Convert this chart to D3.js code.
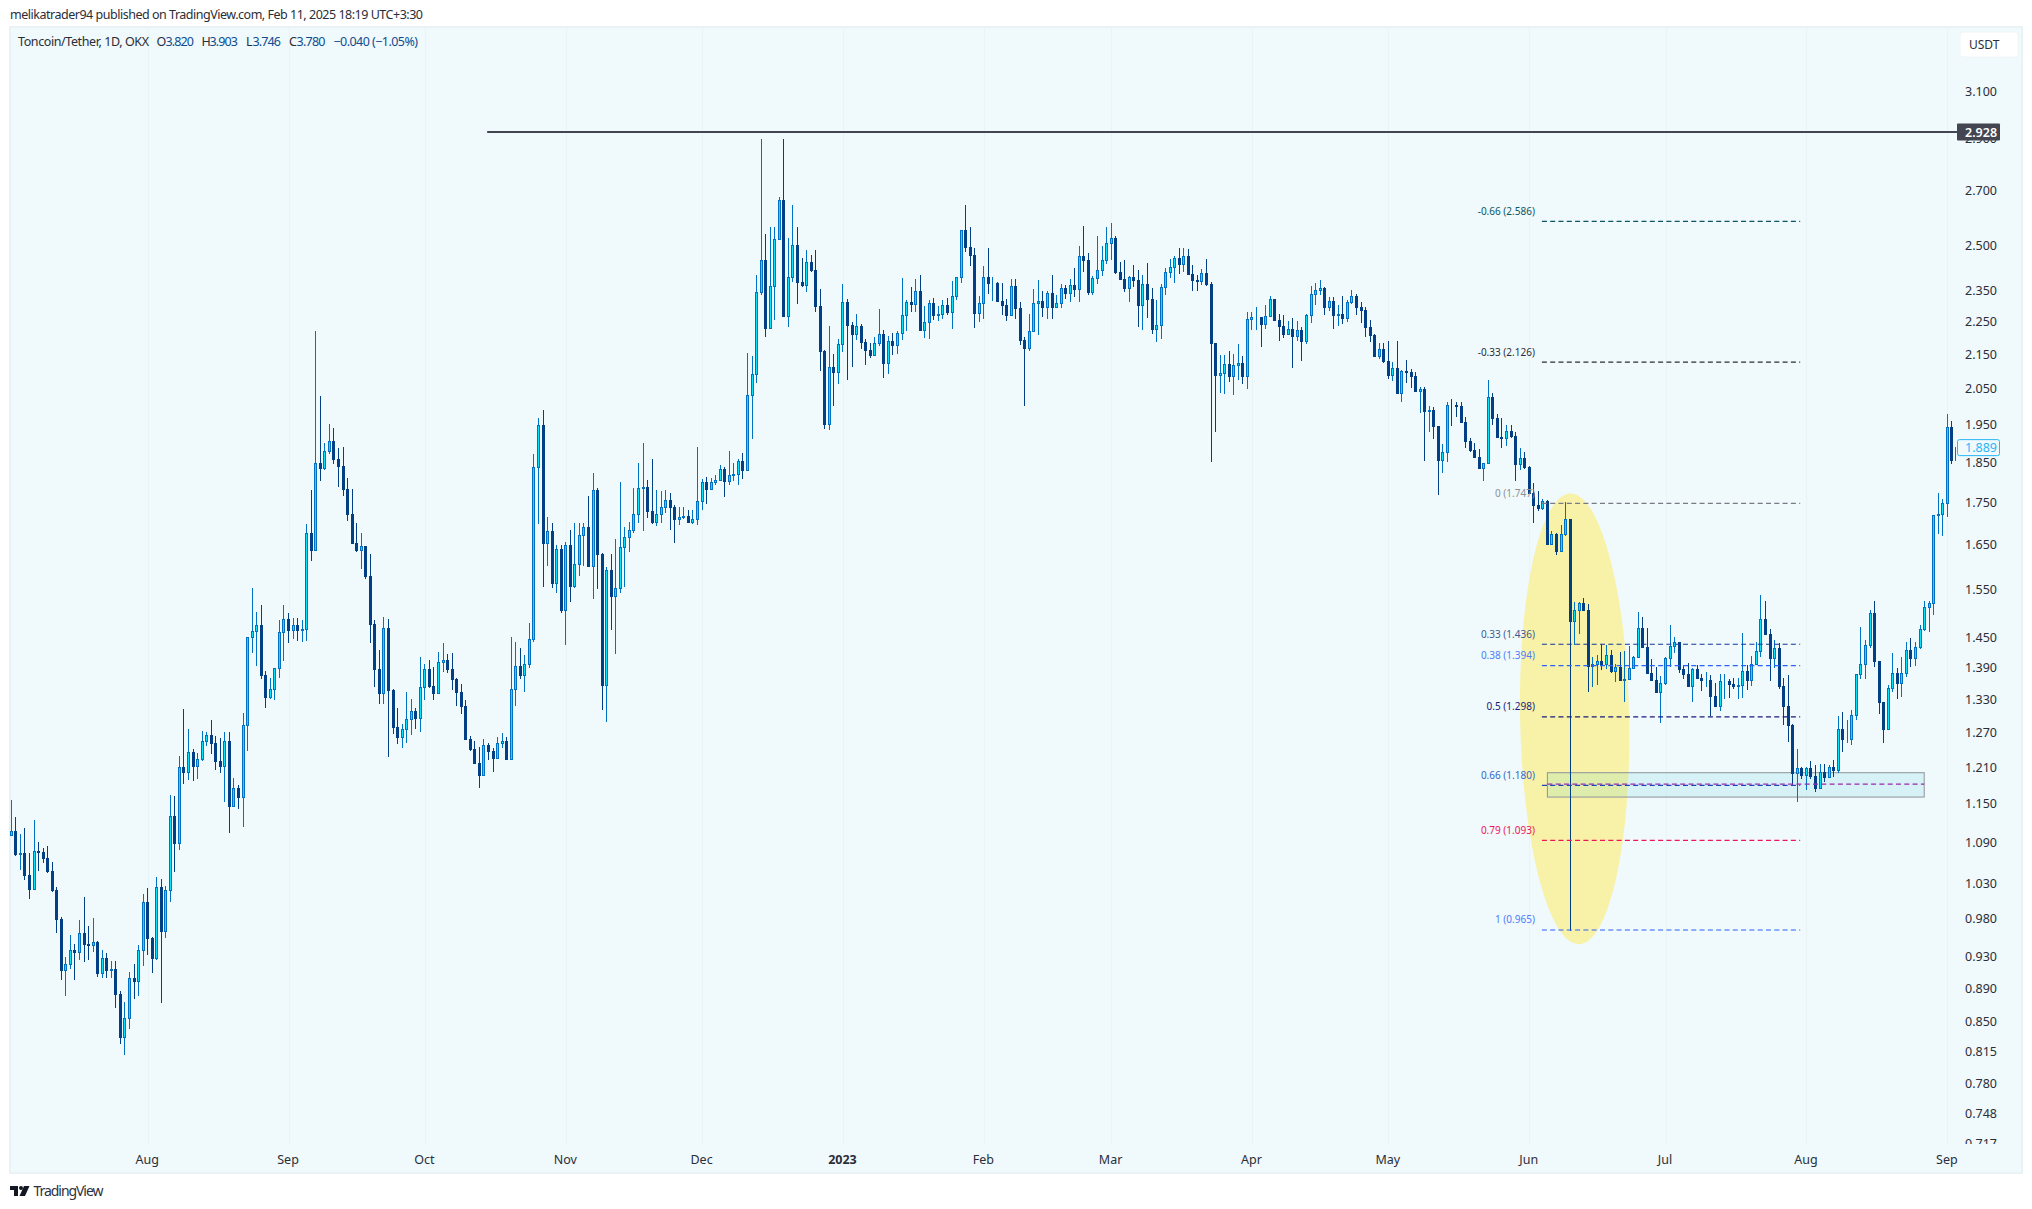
<!DOCTYPE html>
<html>
<head>
<meta charset="utf-8">
<style>
body { margin: 0; background: #fff; }
text { font-family: "Noto Sans", sans-serif; }
</style>
<script src="https://cdn.jsdelivr.net/npm/d3@7/dist/d3.min.js"></script>
</head>
<body>
<script>
//daily candles, first candle is 2 Jul 2022
var opens = [1.101,1.107,1.072,1.074,1.041,1.022,1.077,1.075,1.066,1.048,1.020,.980,.913,.921,.939,.936,.961,.947,.945,.949,
.909,.928,.913,.914,.883,.831,.854,.903,.899,.938,1.004,.954,.928,1.025,.963,1.020,1.131,1.089,1.211,1.203,
1.236,1.212,1.224,1.256,1.265,1.251,1.220,1.212,1.256,1.146,1.175,1.161,1.284,1.450,1.462,1.474,1.376,1.335,1.349,1.389,
1.460,1.488,1.464,1.474,1.464,1.466,1.676,1.638,1.847,1.836,1.878,1.904,1.858,1.841,1.783,1.722,1.653,1.638,1.646,1.578,
1.477,1.388,1.342,1.468,1.348,1.280,1.263,1.276,1.295,1.308,1.296,1.354,1.387,1.355,1.342,1.400,1.404,1.387,1.368,1.344,
1.318,1.259,1.241,1.218,1.198,1.248,1.237,1.225,1.251,1.255,1.224,1.350,1.393,1.376,1.397,1.447,1.837,1.947,1.653,1.680,
1.564,1.640,1.505,1.649,1.558,1.605,1.671,1.690,1.600,1.780,1.627,1.357,1.592,1.536,1.552,1.644,1.666,1.683,1.721,1.784,
1.786,1.729,1.703,1.721,1.739,1.754,1.739,1.710,1.713,1.717,1.703,1.710,1.752,1.799,1.783,1.799,1.804,1.832,1.803,1.817,
1.819,1.852,1.831,2.030,2.090,2.344,2.450,2.228,2.363,2.523,2.663,2.268,2.393,2.501,2.378,2.366,2.444,2.418,2.299,2.160,
1.951,2.111,2.098,2.180,2.310,2.240,2.212,2.235,2.185,2.163,2.148,2.183,2.210,2.122,2.189,2.176,2.214,2.270,2.310,2.306,
2.347,2.222,2.248,2.307,2.271,2.273,2.301,2.281,2.330,2.393,2.554,2.496,2.467,2.275,2.307,2.393,2.372,2.373,2.316,2.303,
2.271,2.363,2.291,2.193,2.169,2.220,2.307,2.314,2.297,2.340,2.295,2.307,2.356,2.342,2.366,2.354,2.464,2.451,2.344,2.390,
2.417,2.450,2.508,2.526,2.411,2.387,2.358,2.393,2.384,2.303,2.370,2.322,2.225,2.239,2.360,2.410,2.427,2.457,2.436,2.464,
2.404,2.384,2.381,2.407,2.371,2.182,2.089,2.093,2.120,2.084,2.117,2.123,2.084,2.257,2.263,2.263,2.243,2.266,2.320,2.255,
2.237,2.211,2.226,2.205,2.224,2.190,2.270,2.336,2.350,2.356,2.294,2.314,2.269,2.273,2.262,2.310,2.330,2.297,2.287,2.231,
2.208,2.144,2.164,2.129,2.087,2.108,2.038,2.100,2.097,2.084,2.041,2.049,1.987,1.988,1.944,1.856,1.875,2.004,2.002,2.000,
1.956,1.906,1.882,1.864,1.834,1.849,2.025,1.968,1.917,1.914,1.931,1.919,1.844,1.861,1.837,1.771,1.744,1.736,1.753,1.650,
1.673,1.634,1.673,1.709,1.484,1.505,1.520,1.507,1.394,1.398,1.403,1.398,1.414,1.383,1.391,1.366,1.369,1.389,1.410,1.468,
1.431,1.380,1.367,1.344,1.360,1.409,1.432,1.440,1.388,1.378,1.355,1.387,1.371,1.367,1.367,1.337,1.318,1.364,1.365,1.359,
1.355,1.356,1.383,1.367,1.397,1.422,1.488,1.456,1.408,1.428,1.355,1.318,1.284,1.200,1.209,1.198,1.209,1.196,1.175,1.203,
1.194,1.211,1.206,1.277,1.259,1.259,1.302,1.377,1.398,1.434,1.499,1.403,1.326,1.276,1.351,1.380,1.361,1.379,1.424,1.409,
1.430,1.466,1.513,1.520,1.718,1.721,1.747,1.942,1.855];
var highs = [1.157,1.130,1.103,1.112,1.074,1.125,1.090,1.081,1.085,1.061,1.024,.983,.929,.958,.946,.979,1.010,.971,.981,.950,
.939,.935,.924,.924,.886,.873,.910,.921,.945,1.014,1.023,.956,1.039,1.036,1.026,1.165,1.162,1.230,1.312,1.276,
1.242,1.235,1.272,1.271,1.292,1.264,1.260,1.271,1.271,1.192,1.181,1.305,1.450,1.552,1.501,1.516,1.383,1.370,1.389,1.486,
1.516,1.499,1.490,1.490,1.486,1.697,1.779,2.220,2.028,1.899,1.952,1.939,1.886,1.889,1.809,1.782,1.699,1.676,1.646,1.628,
1.486,1.424,1.492,1.488,1.350,1.314,1.285,1.344,1.330,1.315,1.410,1.398,1.404,1.391,1.420,1.438,1.416,1.418,1.371,1.358,
1.328,1.264,1.256,1.244,1.258,1.251,1.243,1.262,1.270,1.262,1.450,1.440,1.429,1.414,1.480,1.871,1.966,1.988,1.713,1.699,
1.649,1.649,1.655,1.683,1.699,1.699,1.699,1.764,1.822,1.784,1.630,1.599,1.628,1.662,1.799,1.690,1.701,1.784,1.849,1.899,
1.804,1.857,1.779,1.777,1.779,1.771,1.742,1.737,1.739,1.730,1.730,1.889,1.807,1.812,1.809,1.817,1.842,1.837,1.880,1.849,
1.859,1.873,2.152,2.143,2.400,2.899,2.540,2.565,2.565,2.674,2.899,2.526,2.645,2.565,2.457,2.484,2.467,2.485,2.353,2.161,
2.235,2.149,2.195,2.370,2.320,2.248,2.273,2.242,2.195,2.183,2.201,2.288,2.224,2.204,2.214,2.220,2.390,2.317,2.360,2.386,
2.400,2.298,2.317,2.324,2.298,2.317,2.324,2.380,2.393,2.554,2.645,2.565,2.491,2.330,2.430,2.491,2.393,2.376,2.373,2.320,
2.386,2.386,2.312,2.201,2.273,2.353,2.383,2.347,2.347,2.400,2.334,2.370,2.366,2.386,2.424,2.498,2.568,2.474,2.397,2.534,
2.498,2.565,2.579,2.534,2.444,2.450,2.397,2.434,2.417,2.400,2.441,2.356,2.317,2.370,2.424,2.453,2.464,2.491,2.491,2.487,
2.434,2.400,2.420,2.453,2.377,2.183,2.147,2.147,2.158,2.149,2.180,2.144,2.279,2.279,2.295,2.263,2.301,2.331,2.320,2.273,
2.270,2.251,2.260,2.251,2.234,2.273,2.363,2.373,2.383,2.360,2.327,2.327,2.301,2.330,2.318,2.350,2.336,2.310,2.295,2.254,
2.210,2.183,2.183,2.189,2.126,2.189,2.103,2.132,2.106,2.097,2.053,2.053,2.000,1.997,1.946,1.897,2.011,2.019,2.010,2.011,
1.971,1.912,1.899,1.883,1.849,2.073,2.036,1.977,1.968,1.949,1.949,1.928,1.886,1.875,1.840,1.797,1.777,1.757,1.755,1.681,
1.676,1.695,1.749,1.709,1.522,1.522,1.531,1.518,1.410,1.414,1.436,1.434,1.424,1.397,1.420,1.422,1.432,1.412,1.501,1.492,
1.468,1.406,1.392,1.373,1.410,1.475,1.451,1.441,1.393,1.399,1.389,1.395,1.377,1.382,1.375,1.360,1.378,1.377,1.368,1.370,
1.370,1.458,1.395,1.413,1.440,1.537,1.525,1.466,1.445,1.438,1.371,1.375,1.286,1.241,1.210,1.211,1.221,1.214,1.216,1.216,
1.214,1.222,1.299,1.307,1.293,1.310,1.377,1.470,1.445,1.506,1.525,1.403,1.325,1.357,1.418,1.389,1.410,1.440,1.448,1.440,
1.474,1.525,1.525,1.718,1.772,1.758,1.979,1.960,1.891];
var lows = [1.101,1.070,1.049,1.034,1.008,1.022,1.048,1.059,1.045,1.017,.961,.900,.880,.914,.900,.925,.923,.925,.936,.904,
.903,.903,.903,.866,.823,.811,.841,.877,.880,.918,.932,.909,.926,.872,.954,1.004,1.046,1.079,1.183,1.189,
1.188,1.191,1.221,1.246,1.232,1.206,1.201,1.153,1.105,1.146,1.142,1.114,1.237,1.418,1.394,1.369,1.315,1.331,1.329,1.370,
1.402,1.438,1.447,1.442,1.440,1.442,1.613,1.637,1.803,1.831,1.872,1.844,1.788,1.766,1.705,1.653,1.632,1.595,1.573,1.438,
1.353,1.321,1.321,1.227,1.268,1.250,1.243,1.251,1.265,1.277,1.271,1.329,1.352,1.328,1.340,1.382,1.380,1.348,1.318,1.304,
1.259,1.237,1.218,1.175,1.198,1.223,1.203,1.224,1.243,1.222,1.222,1.318,1.368,1.344,1.390,1.440,1.698,1.555,1.602,1.553,
1.542,1.500,1.434,1.523,1.553,1.578,1.602,1.600,1.530,1.551,1.311,1.289,1.464,1.416,1.541,1.555,1.632,1.677,1.700,1.681,
1.712,1.698,1.693,1.700,1.724,1.683,1.653,1.694,1.710,1.700,1.698,1.696,1.731,1.746,1.781,1.793,1.801,1.763,1.791,1.801,
1.791,1.808,1.831,1.911,2.066,2.335,2.203,2.228,2.253,2.519,2.269,2.231,2.376,2.306,2.359,2.345,2.411,2.281,2.101,1.938,
1.935,2.000,2.063,2.157,2.075,2.113,2.194,2.166,2.119,2.137,2.143,2.173,2.081,2.092,2.146,2.151,2.194,2.219,2.278,2.278,
2.222,2.200,2.197,2.253,2.250,2.256,2.269,2.225,2.319,2.375,2.478,2.429,2.228,2.247,2.259,2.338,2.316,2.312,2.269,2.250,
2.269,2.256,2.177,2.000,2.160,2.220,2.208,2.263,2.259,2.257,2.291,2.293,2.320,2.310,2.329,2.313,2.411,2.335,2.335,2.371,
2.398,2.437,2.449,2.404,2.387,2.345,2.313,2.360,2.232,2.222,2.261,2.211,2.185,2.197,2.334,2.390,2.375,2.403,2.411,2.402,
2.348,2.348,2.366,2.364,1.850,1.928,2.037,2.034,2.069,2.031,2.075,2.063,2.048,2.224,2.222,2.172,2.226,2.263,2.250,2.190,
2.199,2.209,2.109,2.190,2.130,2.181,2.246,2.302,2.334,2.271,2.283,2.227,2.236,2.243,2.249,2.304,2.271,2.246,2.203,2.187,
2.141,2.135,2.123,2.078,2.072,2.038,2.012,2.066,2.052,2.041,1.981,1.853,1.928,1.911,1.768,1.821,1.851,1.946,1.970,1.956,
1.887,1.877,1.861,1.832,1.801,1.846,1.949,1.912,1.887,1.893,1.912,1.801,1.829,1.832,1.771,1.700,1.728,1.730,1.649,1.652,
1.626,1.634,1.669,.963,1.435,1.457,1.506,1.344,1.353,1.357,1.385,1.388,1.379,1.362,1.366,1.326,1.370,1.387,1.408,1.428,
1.380,1.365,1.342,1.287,1.357,1.392,1.418,1.380,1.369,1.354,1.326,1.371,1.346,1.354,1.299,1.317,1.309,1.330,1.333,1.350,
1.331,1.333,1.348,1.355,1.395,1.411,1.456,1.365,1.390,1.350,1.284,1.254,1.181,1.153,1.190,1.172,1.190,1.170,1.175,1.186,
1.194,1.194,1.200,1.236,1.251,1.248,1.292,1.368,1.368,1.428,1.392,1.304,1.251,1.276,1.344,1.330,1.335,1.372,1.392,1.394,
1.426,1.462,1.460,1.495,1.674,1.669,1.715,1.845,1.855];
var closes = [1.107,1.072,1.074,1.041,1.022,1.077,1.075,1.066,1.048,1.020,.980,.913,.921,.939,.936,.961,.947,.945,.949,.909,
.928,.913,.914,.883,.831,.854,.903,.899,.938,1.004,.954,.928,1.025,.963,1.020,1.131,1.089,1.211,1.203,1.236,
1.212,1.224,1.256,1.265,1.251,1.220,1.212,1.256,1.146,1.175,1.161,1.284,1.450,1.462,1.474,1.376,1.335,1.349,1.389,1.460,
1.488,1.464,1.474,1.464,1.466,1.676,1.638,1.847,1.836,1.878,1.904,1.858,1.841,1.783,1.722,1.653,1.638,1.646,1.578,1.477,
1.388,1.342,1.468,1.348,1.280,1.263,1.276,1.295,1.308,1.296,1.354,1.387,1.355,1.342,1.400,1.404,1.387,1.368,1.344,1.318,
1.259,1.241,1.218,1.198,1.248,1.237,1.225,1.251,1.255,1.224,1.350,1.393,1.376,1.397,1.447,1.837,1.947,1.653,1.680,1.564,
1.640,1.505,1.649,1.558,1.605,1.671,1.690,1.600,1.780,1.627,1.357,1.592,1.536,1.552,1.644,1.666,1.683,1.721,1.784,1.786,
1.729,1.703,1.721,1.739,1.754,1.739,1.710,1.713,1.717,1.703,1.710,1.752,1.799,1.783,1.799,1.804,1.832,1.803,1.817,1.819,
1.852,1.831,2.030,2.090,2.344,2.450,2.228,2.363,2.523,2.663,2.268,2.393,2.501,2.378,2.366,2.444,2.418,2.299,2.160,1.951,
2.111,2.098,2.180,2.310,2.240,2.212,2.235,2.185,2.163,2.148,2.183,2.210,2.122,2.189,2.176,2.214,2.270,2.310,2.306,2.347,
2.222,2.248,2.307,2.271,2.273,2.301,2.281,2.330,2.393,2.554,2.496,2.467,2.275,2.307,2.393,2.372,2.373,2.316,2.303,2.271,
2.363,2.291,2.193,2.169,2.220,2.307,2.314,2.297,2.340,2.295,2.307,2.356,2.342,2.366,2.354,2.464,2.451,2.344,2.390,2.417,
2.450,2.508,2.526,2.411,2.387,2.358,2.393,2.384,2.303,2.370,2.322,2.225,2.239,2.360,2.410,2.427,2.457,2.436,2.464,2.404,
2.384,2.381,2.407,2.371,2.182,2.089,2.093,2.120,2.084,2.117,2.123,2.084,2.257,2.263,2.263,2.243,2.266,2.320,2.255,2.237,
2.211,2.226,2.205,2.224,2.190,2.270,2.336,2.350,2.356,2.294,2.314,2.269,2.273,2.262,2.310,2.330,2.297,2.287,2.231,2.208,
2.144,2.164,2.129,2.087,2.108,2.038,2.100,2.097,2.084,2.041,2.049,1.987,1.988,1.944,1.856,1.875,2.004,2.002,2.000,1.956,
1.906,1.882,1.864,1.834,1.849,2.025,1.968,1.917,1.914,1.931,1.919,1.844,1.861,1.837,1.771,1.744,1.736,1.753,1.650,1.673,
1.634,1.673,1.709,1.484,1.505,1.520,1.507,1.394,1.398,1.403,1.398,1.414,1.383,1.391,1.366,1.369,1.389,1.410,1.468,1.431,
1.380,1.367,1.344,1.360,1.409,1.432,1.440,1.388,1.378,1.355,1.387,1.371,1.367,1.367,1.337,1.318,1.364,1.365,1.359,1.355,
1.356,1.383,1.367,1.397,1.422,1.488,1.456,1.408,1.428,1.355,1.318,1.284,1.200,1.209,1.198,1.209,1.196,1.175,1.203,1.194,
1.211,1.206,1.277,1.259,1.259,1.302,1.377,1.398,1.434,1.499,1.403,1.326,1.276,1.351,1.380,1.361,1.379,1.424,1.409,1.430,
1.466,1.513,1.520,1.718,1.721,1.747,1.942,1.855,1.889];

var priceTicks = [3.1,2.9,2.7,2.5,2.35,2.25,2.15,2.05,1.95,1.85,1.75,1.65,1.55,1.45,1.39,1.33,1.27,1.21,1.15,1.09,1.03,.98,.93,.89,.85,.815,.78,.748,.717];
var timeTicks = ["2022-08-01","2022-09-01","2022-10-01","2022-11-01","2022-12-01","2023-01-01","2023-02-01","2023-03-01","2023-04-01","2023-05-01","2023-06-01","2023-07-01","2023-08-01","2023-09-01"];
var timeLabels = ["Aug","Sep","Oct","Nov","Dec","2023","Feb","Mar","Apr","May","Jun","Jul","Aug","Sep"];

//fib levels
var fibLabels = ["-0.66 (2.586)","-0.33 (2.126)","0 (1.747)","0.33 (1.436)","0.38 (1.394)","0.5 (1.298)","0.66 (1.180)","0.79 (1.093)","1 (0.965)"];
var fibPrices = [2.586,2.126,1.747,1.436,1.394,1.298,1.180,1.093,0.965];
var fibColors = ["#0b5566","#2a2e39","#787b86","#12349c","#2962ff","#1a1a7e","#1e45b4","#f0145a","#2962ff"];
var fibTextColors = ["#0b5566","#2a2e39","#8d9099","#3f5a92","#4f7cff","#1a1a7e","#3566cc","#f0145a","#4f7cff"];
var fibRange = ["2023-06-03T19:00Z","2023-07-30T15:00Z"];

//other drawings on the chart
var resistancePrice = 2.928, resistanceStart = "2022-10-14T17:00Z";
var zoneDates = ["2023-06-05T00:00Z","2023-08-26T22:00Z"], zonePrices = [1.201,1.161], zoneMidPrice = 1.182;
var ellipseDates = ["2023-05-30T00:00Z","2023-06-23T00:00Z"], ellipsePrices = [1.771,0.946];
var lastPrice = 1.889;

var legendParts = [["Toncoin/Tether, 1D, OKX",18,131,"#2a2e39"],["O",156.5,8,"#2a2e39"],["3.820",165.5,28.5,"#0f4c92"],["H",201.5,7.5,"#2a2e39"],["3.903",209.5,28.5,"#0f4c92"],
    ["L",246,5.5,"#2a2e39"],["3.746",252.5,28.5,"#0f4c92"],["C",289,7,"#2a2e39"],["3.780",296.5,29,"#0f4c92"],["\u22120.040 (\u22121.05%)",333.5,84.5,"#0f4c92"]];

window.onload = function(){
    var w = 2032, h = 1209;
    var container = d3.select("body")
        .append("svg")
        .attr("width", w)
        .attr("height", h)
        .style("display", "block");

    var dates = d3.utcDay.range(new Date(Date.UTC(2022, 6, 2)), new Date(Date.UTC(2023, 8, 4)));

    var x = d3.scaleUtc() //candle centres
        .domain([dates[0], dates[dates.length - 1]])
        .range([11.3, 1956.4]);

    var y = d3.scaleLog() //price scale is logarithmic
        .domain([3.1, 0.78])
        .range([91, 1083]);

    //pane background
    container.append("rect")
        .attr("x", 10).attr("y", 27)
        .attr("width", 2012).attr("height", 1146)
        .style("fill", "#f0f9fb")
        .style("stroke", "#e9f3f5")
        .style("stroke-width", 2);

    var defs = container.append("defs");
    defs.append("clipPath").attr("id", "paneClip").append("rect")
        .attr("x", 9).attr("y", 26).attr("width", 1947).attr("height", 1119);
    defs.append("clipPath").attr("id", "scaleClip").append("rect") //in the axis group's own coordinates
        .attr("x", -8).attr("y", 26).attr("width", 65).attr("height", 1118);

    //vertical grid lines
    container.selectAll(".grid")
        .data(timeTicks)
        .enter()
        .append("line")
        .attr("class", "grid")
        .attr("x1", function(d){ return Math.round(x(new Date(d))) + 0.5; })
        .attr("x2", function(d){ return Math.round(x(new Date(d))) + 0.5; })
        .attr("y1", 27)
        .attr("y2", 1145)
        .style("stroke", "#e9f4f6");

    var pane = container.append("g").attr("clip-path", "url(#paneClip)");

    //yellow ellipse
    var ex0 = x(new Date(ellipseDates[0])), ex1 = x(new Date(ellipseDates[1]));
    var ey0 = y(ellipsePrices[0]), ey1 = y(ellipsePrices[1]);
    pane.append("ellipse")
        .attr("cx", (ex0 + ex1) / 2)
        .attr("cy", (ey0 + ey1) / 2)
        .attr("rx", (ex1 - ex0) / 2)
        .attr("ry", (ey1 - ey0) / 2)
        .attr("transform", "rotate(-1.1 " + (ex0 + ex1) / 2 + " " + (ey0 + ey1) / 2 + ")")
        .style("fill", "#f8f2a8");

    //demand zone
    pane.append("rect")
        .attr("x", x(new Date(zoneDates[0])))
        .attr("y", y(zonePrices[0]))
        .attr("width", x(new Date(zoneDates[1])) - x(new Date(zoneDates[0])))
        .attr("height", y(zonePrices[1]) - y(zonePrices[0]))
        .style("fill", "rgba(0,188,212,0.1)")
        .style("stroke", "#8f9499")
        .style("stroke-width", 1);

    //candles
    var candles = dates.map(function(d, i){
        return {date: d, open: opens[i], high: highs[i], low: lows[i], close: closes[i]};
    });
    var candle = pane.selectAll(".candle")
        .data(candles)
        .enter()
        .append("g")
        .attr("class", "candle")
        .attr("transform", function(d){ return "translate(" + (Math.floor(x(d.date)) + 0.5) + ",0)"; })
        .style("shape-rendering", "crispEdges");

    candle.append("line") //wick
        .attr("y1", function(d){ return Math.round(y(d.high)); })
        .attr("y2", function(d){ return Math.round(y(d.low)); })
        .style("stroke", function(d){ return d.close >= d.open ? "#0072c6" : "#023f85"; });

    candle.append("rect") //body
        .attr("x", -1)
        .attr("width", 2)
        .attr("y", function(d){ return Math.round(y(Math.max(d.open, d.close))) + 0.5; })
        .attr("height", function(d){ return Math.round(y(Math.min(d.open, d.close))) - Math.round(y(Math.max(d.open, d.close))); })
        .style("fill", function(d){ return d.close >= d.open ? "#00e5ff" : "#023f85"; })
        .style("stroke", function(d){ return d.close >= d.open ? "#0072c6" : "#023f85"; });

    //fib levels and their labels
    pane.selectAll(".fibLine")
        .data(fibPrices)
        .enter()
        .append("line")
        .attr("class", "fibLine")
        .attr("x1", x(new Date(fibRange[0])))
        .attr("x2", x(new Date(fibRange[1])))
        .attr("y1", function(d){ return y(d); })
        .attr("y2", function(d){ return y(d); })
        .style("stroke", function(d, i){ return fibColors[i]; })
        .style("stroke-width", 1.2)
        .style("stroke-dasharray", "5 3.3");

    pane.selectAll(".fibLabel")
        .data(fibPrices)
        .enter()
        .append("text")
        .attr("class", "fibLabel")
        .attr("text-anchor", "end")
        .attr("x", x(new Date(fibRange[0])) - 7)
        .attr("y", function(d){ return y(d) - 6.5; })
        .style("font-size", "10px")
        .style("fill", function(d, i){ return fibTextColors[i]; })
        .text(function(d, i){ return fibLabels[i]; });

    //purple dashed midline of the zone
    pane.append("line")
        .attr("x1", x(new Date(zoneDates[0])))
        .attr("x2", x(new Date(zoneDates[1])))
        .attr("y1", y(zoneMidPrice))
        .attr("y2", y(zoneMidPrice))
        .style("stroke", "#9c27b0")
        .style("stroke-width", 1.2)
        .style("stroke-dasharray", "5 3.3");

    //black line at the high
    container.append("line")
        .attr("x1", x(new Date(resistanceStart)))
        .attr("x2", 1957)
        .attr("y1", y(resistancePrice))
        .attr("y2", y(resistancePrice))
        .style("stroke", "#434651")
        .style("stroke-width", 2);

    //axes
    var yAxis = d3.axisRight(y)
        .tickValues(priceTicks)
        .tickFormat(d3.format(".3f"))
        .tickSize(0)
        .tickPadding(0);
    var yAxisG = container.append("g")
        .attr("class", "axis")
        .attr("transform", "translate(1965,0)")
        .attr("clip-path", "url(#scaleClip)")
        .call(yAxis);
    yAxisG.select(".domain").remove();
    yAxisG.selectAll("text")
        .style("font-family", "'Noto Sans', sans-serif")
        .style("font-size", "12.5px")
        .style("fill", "#2a2e39");

    var xAxis = d3.axisBottom(x)
        .tickValues(timeTicks.map(function(d){ return new Date(d); }))
        .tickFormat(function(d, i){ return timeLabels[i]; })
        .tickSize(0)
        .tickPadding(0);
    var xAxisG = container.append("g")
        .attr("class", "axis")
        .attr("transform", "translate(-1,1155)")
        .call(xAxis);
    xAxisG.select(".domain").remove();
    xAxisG.selectAll("text")
        .style("font-family", "'Noto Sans', sans-serif")
        .style("font-size", "12.5px")
        .style("fill", "#2a2e39")
        .style("font-weight", function(d, i){ return timeLabels[i] == "2023" ? "bold" : "normal"; });

    //price tags on the scale
    var tag = container.append("g");
    tag.append("rect")
        .attr("x", 1957).attr("y", y(resistancePrice) - 8.5)
        .attr("width", 43).attr("height", 17).attr("rx", 1)
        .style("fill", "#434651");
    tag.append("text")
        .attr("x", 1965).attr("y", y(resistancePrice) + 4.5)
        .style("font-size", "12.5px")
        .style("font-weight", "600")
        .style("fill", "#fff")
        .text(d3.format(".3f")(resistancePrice));
    tag.append("rect")
        .attr("x", 1957.5).attr("y", y(lastPrice) - 7.5)
        .attr("width", 42).attr("height", 16).attr("rx", 2)
        .style("fill", "#f0f9fb")
        .style("stroke", "#29b6f6");
    tag.append("text")
        .attr("x", 1965).attr("y", y(lastPrice) + 5)
        .style("font-size", "12.5px")
        .style("fill", "#29b6f6")
        .text(d3.format(".3f")(lastPrice));

    //currency button
    container.append("rect")
        .attr("x", 1960).attr("y", 32)
        .attr("width", 58).attr("height", 25).attr("rx", 3)
        .style("fill", "#fff")
        .style("stroke", "#eef6f8");
    container.append("text")
        .attr("x", 1969).attr("y", 49)
        .style("font-size", "12px")
        .style("fill", "#2a2e39")
        .text("USDT");

    //header and legend
    container.append("text")
        .attr("x", 10).attr("y", 19)
        .attr("textLength", 413)
        .style("font-size", "12.5px")
        .style("fill", "#2a2e39")
        .text("melikatrader94 published on TradingView.com, Feb 11, 2025 18:19 UTC+3:30");

    container.selectAll(".legend")
        .data(legendParts)
        .enter()
        .append("text")
        .attr("class", "legend")
        .attr("x", function(d){ return d[1]; })
        .attr("y", 46)
        .attr("textLength", function(d){ return d[2]; })
        .style("font-size", "12.5px")
        .style("fill", function(d){ return d[3]; })
        .text(function(d){ return d[0]; });

    //TradingView logo
    var logo = container.append("g")
        .attr("transform", "translate(10,1186)")
        .style("fill", "#131722");
    logo.append("path").attr("d", "M0 0H8V10H4V4H0Z");
    logo.append("circle").attr("cx", 11).attr("cy", 2).attr("r", 2);
    logo.append("path").attr("d", "M14 0H19.5L15 10H9.5Z");
    container.append("text")
        .attr("x", 33.5).attr("y", 1196)
        .attr("textLength", 70)
        .style("font-size", "14px")
        .style("fill", "#2e3140")
        .text("TradingView");
};
</script>
</body>
</html>
